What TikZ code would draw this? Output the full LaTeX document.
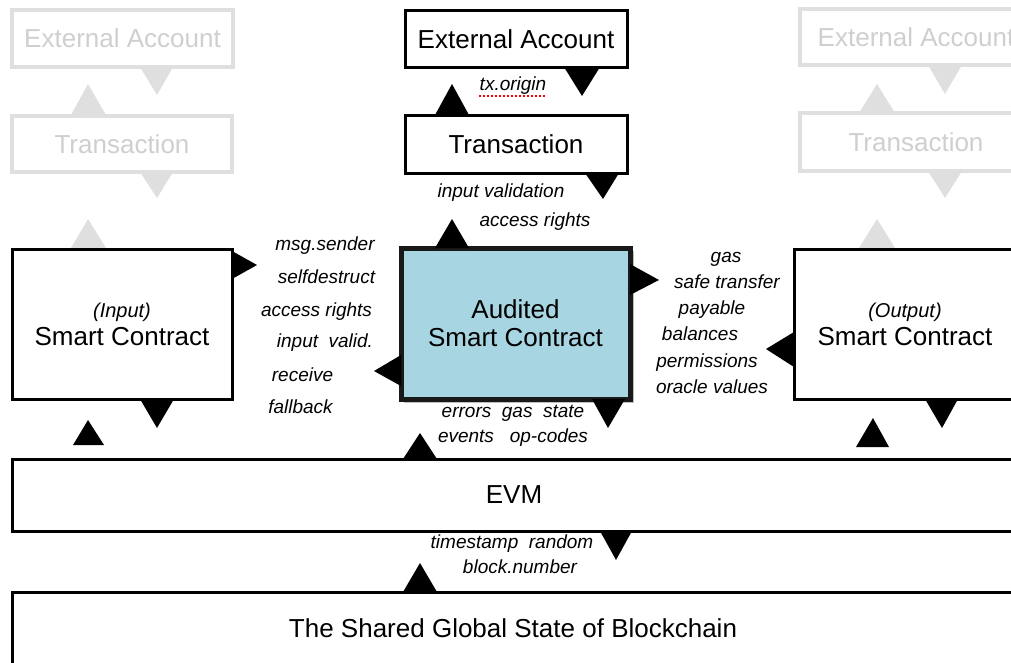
\documentclass[tikz,border=0pt]{standalone}
\usepackage{fontspec}
\setmainfont{Liberation Sans}
\begin{document}
\begin{tikzpicture}[x=1pt,y=-1pt,
  box/.style={draw=black,line width=3pt,fill=white,inner sep=0pt,align=center,
    font=\fontsize{26}{30}\selectfont},
  ghostbox/.style={draw=gray!25,line width=4pt,fill=white,inner sep=0pt,align=center,
    text=gray!38,font=\fontsize{26}{30}\selectfont},
  audited/.style={draw=black!90,line width=5pt,fill=auditblue,inner sep=0pt,align=center,
    font=\fontsize{26}{30}\selectfont},
  lbl/.style={inner sep=0pt,font=\fontsize{19}{22}\selectfont\itshape,text height=0.55em,text depth=0pt},
  tri/.style={fill=black},
  ghosttri/.style={fill=gray!25}]
\definecolor{auditblue}{RGB}{167,213,225}
\useasboundingbox (0,0) rectangle (1011,662);
\clip (0,0) rectangle (1011,662);

% ghost (gray) columns
\node[ghostbox,minimum width=221pt,minimum height=57pt] (gea1) at (122.5,38.5) {External Account};
\node[ghostbox,minimum width=220pt,minimum height=56pt] (gtr1) at (122,144) {Transaction};
\node[ghostbox,minimum width=232pt,minimum height=56pt] (gea2) at (916,37) {External Account};
\node[ghostbox,minimum width=232pt,minimum height=58pt] (gtr2) at (916,142) {Transaction};

\fill[ghosttri] (140,67) -- (173,67) -- (157,95) -- cycle;
\fill[ghosttri] (71,115) -- (106,115) -- (88,84) -- cycle;
\fill[ghosttri] (140,172) -- (173,172) -- (157,198) -- cycle;
\fill[ghosttri] (71,248) -- (106,248) -- (88,219) -- cycle;
\fill[ghosttri] (928,65) -- (962,65) -- (945,94) -- cycle;
\fill[ghosttri] (859,113) -- (895,113) -- (877,84) -- cycle;
\fill[ghosttri] (928,171) -- (962,171) -- (945,198) -- cycle;
\fill[ghosttri] (859,248) -- (895,248) -- (877,219) -- cycle;

% main boxes
\node[box,minimum width=222pt,minimum height=57pt] (ea) at (516,39) {External Account};
\node[box,minimum width=222pt,minimum height=58pt] (tr) at (516,144) {Transaction};
\node[box,minimum width=220pt,minimum height=150pt] (insc) at (122,324)
  {{\fontsize{20}{24}\selectfont\itshape (Input)}\\[-2pt]Smart Contract};
\fill[black!25] (404,251) rectangle (634,403);
\node[audited,minimum width=229pt,minimum height=151pt] (asc) at (515.5,323.5)
  {Audited\\[-2pt]Smart Contract};
\node[box,minimum width=222pt,minimum height=150pt] (outsc) at (905,324)
  {{\fontsize{20}{24}\selectfont\itshape (Output)}\\[-2pt]Smart Contract};
\node[box,minimum width=1004pt,minimum height=72pt] (evm) at (514,495) {EVM};
\node[box,minimum width=1002pt,minimum height=72pt] (state) at (513,628) {The Shared Global State of Blockchain};

% black triangles
\fill[tri] (564,67) -- (600,67) -- (582,96) -- cycle;
\fill[tri] (435,115) -- (469,115) -- (452,84) -- cycle;
\fill[tri] (585,173) -- (619,173) -- (603,199) -- cycle;
\fill[tri] (435,248) -- (469,248) -- (452,219) -- cycle;
\fill[tri] (232,251) -- (232,279) -- (257,265) -- cycle;
\fill[tri] (630,264) -- (630,295) -- (659,280) -- cycle;
\fill[tri] (401,355) -- (401,386) -- (374,371) -- cycle;
\fill[tri] (794,332) -- (794,367) -- (766,349) -- cycle;
\fill[tri] (140,399) -- (174,399) -- (157,428) -- cycle;
\fill[tri] (73,445) -- (104,445) -- (88,420) -- cycle;
\fill[tri] (592,399) -- (625,399) -- (608,428) -- cycle;
\fill[tri] (403,459) -- (437,459) -- (420,433) -- cycle;
\fill[tri] (925,399) -- (958,399) -- (942,428) -- cycle;
\fill[tri] (856,447) -- (889,447) -- (873,418) -- cycle;
\fill[tri] (600,531) -- (632,531) -- (616,560) -- cycle;
\fill[tri] (403,592) -- (437,592) -- (420,563) -- cycle;

% labels
\node[lbl] (txo) at (513,88) {tx.origin};
\draw[red,line width=1.5pt,dash pattern=on 2pt off 2pt] (479,96) -- (545,96);
\node[lbl] (iv) at (501,195) {input validation};
\node[lbl] (ar) at (535,224) {access rights};

\node[lbl] (l1) at (325,248) {msg.sender};
\node[lbl] (l2) at (326.5,281) {selfdestruct};
\node[lbl] (l3) at (316.5,314) {access rights};
\node[lbl] (l4) at (325,345) {input\ \ valid.};
\node[lbl] (l5) at (302.5,379) {receive};
\node[lbl] (l6) at (300.5,411) {fallback};

\node[lbl] (r1) at (726,260) {gas};
\node[lbl] (r2) at (727,286) {safe transfer};
\node[lbl] (r3) at (712,312) {payable};
\node[lbl] (r4) at (700,338) {balances};
\node[lbl] (r5) at (707,365) {permissions};
\node[lbl] (r6) at (712,391) {oracle values};

\node[lbl] (b1) at (513,415) {errors\ \ gas\ \ state};
\node[lbl] (b2) at (513,440) {events\ \ \ op-codes};
\node[lbl] (b3) at (512,546) {timestamp\ \ random};
\node[lbl] (b4) at (520,571) {block.number};
\end{tikzpicture}
\end{document}
